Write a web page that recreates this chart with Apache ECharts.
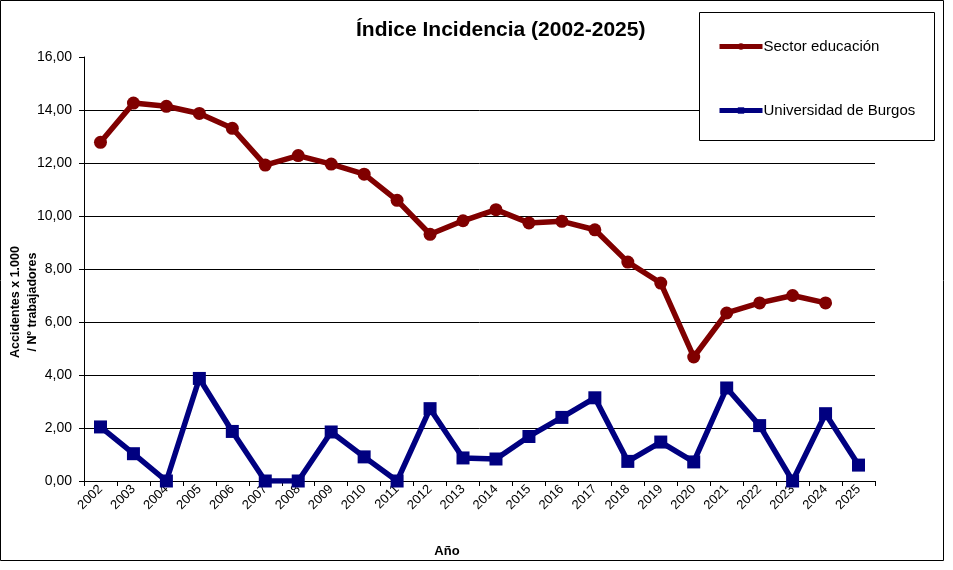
<!DOCTYPE html>
<html>
<head>
<meta charset="utf-8">
<script src="https://cdn.jsdelivr.net/npm/echarts@6/dist/echarts.min.js"></script>
<style>
  html, body { margin: 0; padding: 0; background: #fff; }
  #chart { width: 953px; height: 570px; }
</style>
</head>
<body>
<div id="chart"></div>
<script>
var years = ['2002','2003','2004','2005','2006','2007','2008','2009','2010','2011','2012','2013',
             '2014','2015','2016','2017','2018','2019','2020','2021','2022','2023','2024','2025'];
var sectorEducacion = [12.78, 14.26, 14.14, 13.87, 13.31, 11.92, 12.28, 11.96, 11.58, 10.59, 9.31, 9.82,
                       10.24, 9.74, 9.80, 9.48, 8.26, 7.47, 4.68, 6.34, 6.72, 7.00, 6.72, null];
var universidadBurgos = [2.04, 1.03, 0.00, 3.87, 1.87, 0.00, 0.00, 1.85, 0.91, 0.00, 2.73, 0.87,
                         0.83, 1.68, 2.40, 3.14, 0.74, 1.47, 0.72, 3.51, 2.09, 0.00, 2.54, 0.60];
var seriesNames = ['Sector educación', 'Universidad de Burgos'];

var font = 'Liberation Sans, Arial, sans-serif';
var myChart = echarts.init(document.getElementById('chart'));

var option = {
    backgroundColor: '#fff',
    animation: false,
    title: {
        text: 'Índice Incidencia (2002-2025)',
        left: 356,
        top: 20,
        padding: 0,
        textStyle: { fontFamily: font, fontSize: 21, fontWeight: 'bold', color: '#000' }
    },
    legend: {
        orient: 'vertical',
        left: 717,
        top: 39,
        padding: 0,
        z: 10,
        itemWidth: 43,
        itemHeight: 8,
        itemGap: 49,
        data: seriesNames,
        lineStyle: { width: 5 },
        textStyle: { fontFamily: font, fontSize: 15, color: '#000', padding: [0, 0, 0, -4] }
    },
    graphic: [
        { type: 'rect', z: -1, shape: { x: 0.5, y: 0.5, width: 943, height: 560 },
          style: { fill: 'none', stroke: '#000', lineWidth: 1 } },
        { type: 'rect', z: 5, shape: { x: 699.5, y: 12.5, width: 235, height: 128 },
          style: { fill: '#fff', stroke: '#000', lineWidth: 1 } },
        { type: 'text', x: 24, y: 302, rotation: Math.PI / 2,
          style: { text: 'Accidentes x 1.000\n/ Nº trabajadores', fontFamily: font, fontSize: 12.5,
                   fontWeight: 'bold', fill: '#000', align: 'center', verticalAlign: 'middle', lineHeight: 17 } },
        { type: 'text', x: 447, y: 551,
          style: { text: 'Año', fontFamily: font, fontSize: 13, fontWeight: 'bold', fill: '#000',
                   align: 'center', verticalAlign: 'middle' } }
    ],
    grid: { left: 84, right: 78, top: 57, bottom: 89 },
    xAxis: {
        type: 'category',
        data: years,
        boundaryGap: true,
        axisLine: { lineStyle: { color: '#000', width: 1 } },
        axisTick: { show: true, length: 5, lineStyle: { color: '#000' } },
        axisLabel: { rotate: 45, fontFamily: font, fontSize: 13, color: '#000', margin: 6, interval: 0 },
        splitLine: { show: false }
    },
    yAxis: {
        type: 'value',
        min: 0,
        max: 16,
        interval: 2,
        axisLine: { show: true, lineStyle: { color: '#000', width: 1 } },
        axisTick: { show: true, length: 5, lineStyle: { color: '#000' } },
        axisLabel: {
            fontFamily: font, fontSize: 14, color: '#000', margin: 12,
            formatter: function (v) { return v.toFixed(2).replace('.', ','); }
        },
        splitLine: {
            show: true,
            lineStyle: { color: '#000', width: 1 },
            showMaxLine: false
        }
    },
    series: [
        {
            name: seriesNames[0],
            type: 'line',
            data: sectorEducacion,
            color: '#800000',
            symbol: 'circle',
            symbolSize: 13,
            lineStyle: { width: 5.5, color: '#800000' },
            itemStyle: { color: '#800000' },
            z: 3
        },
        {
            name: seriesNames[1],
            type: 'line',
            data: universidadBurgos,
            color: '#000080',
            symbol: 'rect',
            symbolSize: 13,
            lineStyle: { width: 5.5, color: '#000080' },
            itemStyle: { color: '#000080' },
            z: 3
        }
    ]
};
myChart.setOption(option);
</script>
</body>
</html>
